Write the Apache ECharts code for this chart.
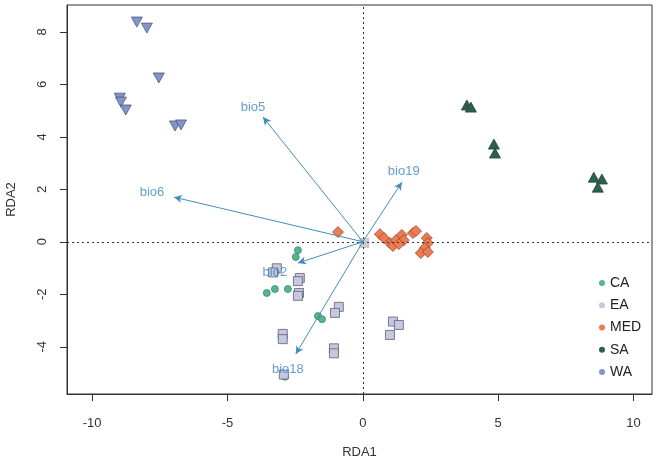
<!DOCTYPE html>
<html>
<head>
<meta charset="utf-8">
<script src="https://cdn.jsdelivr.net/npm/echarts@6/dist/echarts.min.js"></script>
<style>
html,body{margin:0;padding:0;background:#fff;}
#chart{width:661px;height:459px;}
</style>
</head>
<body>
<div id="chart"></div>
<script>
// ---- data (RDA1, RDA2) ----
const groups = ['CA', 'EA', 'MED', 'SA', 'WA'];
const caPoints = [[-2.40,-0.32],[-2.48,-0.58],[-3.55,-1.95],[-3.25,-1.80],[-2.77,-1.80],[-1.66,-2.83],[-1.51,-2.95],[-2.88,-5.14]];
const eaPoints = [[-3.18,-1.01],[-3.32,-1.17],[-2.33,-1.38],[-2.40,-1.50],[-2.36,-1.95],[-2.40,-2.06],[-0.89,-2.48],[-1.03,-2.71],[-2.96,-3.51],[-2.96,-3.71],[-1.07,-4.06],[-1.07,-4.25],[1.11,-3.04],[1.33,-3.17],[1.00,-3.55],[-2.92,-5.06]];
const medPoints = [[-0.92,0.37],[0.63,0.29],[0.78,0.14],[1.00,-0.05],[1.11,-0.16],[1.22,0.06],[1.44,0.26],[1.51,0.06],[1.33,-0.09],[1.85,0.33],[1.96,0.41],[2.36,0.14],[2.40,-0.05],[2.29,-0.24],[2.14,-0.43],[2.40,-0.39]];
const saPoints = [[3.84,5.21],[3.99,5.13],[4.84,3.72],[4.88,3.38],[8.53,2.46],[8.83,2.39],[8.68,2.08]];
const waPoints = [[-8.35,8.37],[-7.98,8.14],[-7.54,6.24],[-8.98,5.47],[-8.94,5.32],[-8.76,5.02],[-6.94,4.41],[-6.72,4.45]];
const centerPoints = [[0.05,-0.05]];
const bioNames = ['bio5', 'bio6', 'bio19', 'bio2', 'bio18'];
const bioArrows = [[-3.69,4.75],[-6.98,1.70],[1.44,2.27],[-2.40,-0.81],[-2.48,-4.28]];
const bioLabelPos = [[-4.06,5.13],[-7.79,1.89],[1.51,2.69],[-3.25,-1.16],[-2.77,-4.85]];
const xTicks = [-10, -5, 0, 5, 10];
const yTicks = [-4, -2, 0, 2, 4, 6, 8];
const xRange = [-10.93, 10.68];
const yRange = [-5.8, 9.02];

const fills = {CA:'#55b592', EA:'#c5c8df', MED:'#f07b50', SA:'#2e5e4c', WA:'#8494c8'};
const borders = {CA:'#3f8a6c', EA:'#5c5f74', MED:'#8e4a33', SA:'#24483b', WA:'#4c5679'};
const symbols = {CA:'circle', EA:'rect', MED:'diamond', SA:'triangle', WA:'path://M0,0 L10,0 L5,9 Z'};
const sizes = {CA:7, EA:[9,9], MED:[11,11], SA:[11,10], WA:[11,10]};
const pointData = {CA:caPoints, EA:eaPoints, MED:medPoints, SA:saPoints, WA:waPoints};

const chart = echarts.init(document.getElementById('chart'));
const axisTxt = {color:'#333', fontSize:13, fontFamily:'Liberation Sans, Arial, sans-serif'};

const series = groups.map(g => ({
  name: g, type: 'scatter', data: pointData[g], symbol: symbols[g], symbolSize: sizes[g],
  itemStyle: {color: fills[g], borderColor: borders[g], borderWidth: 0.8, opacity: 1},
  emphasis: {disabled: true}, z: 3
}));
series.unshift({
  name: 'center', type: 'scatter', data: centerPoints, symbol: 'rect', symbolSize: 10,
  itemStyle: {color: '#bdbdbd'}, z: 2,
  markLine: {silent: true, symbol: 'none', label: {show: false},
    lineStyle: {type: [2, 3], color: '#333', width: 1},
    data: [{xAxis: 0}, {yAxis: 0}]}
});
series.push({
  name: 'arrows', type: 'scatter', data: [], z: 5,
  markLine: {silent: true, symbol: ['none', 'arrow'], symbolSize: [6, 8], label: {show: false},
    lineStyle: {type: 'solid', color: '#438cbc', width: 1},
    data: bioArrows.map(a => [{coord: [0, 0]}, {coord: a}])}
});
series.push({
  name: 'biolabels', type: 'scatter', symbolSize: 1, z: 6,
  itemStyle: {color: 'rgba(0,0,0,0)'},
  data: bioLabelPos.map((p, i) => [p[0], p[1], bioNames[i]]),
  label: {show: true, position: 'inside', formatter: p => p.data[2], color: '#3d84c4', fontSize: 13,
    fontFamily: 'Liberation Sans, Arial, sans-serif'}
});
// outward tick marks: thin strip grids just outside the plot box share the axis ranges
series.push({
  name: 'xticks', type: 'scatter', data: [], xAxisIndex: 1, yAxisIndex: 1, silent: true,
  markLine: {silent: true, symbol: 'none', label: {show: false}, animation: false,
    lineStyle: {type: 'solid', color: '#333', width: 1},
    data: xTicks.map(v => ({xAxis: v}))}
});
series.push({
  name: 'yticks', type: 'scatter', data: [], xAxisIndex: 2, yAxisIndex: 2, silent: true,
  markLine: {silent: true, symbol: 'none', label: {show: false}, animation: false,
    lineStyle: {type: 'solid', color: '#333', width: 1},
    data: yTicks.map(v => ({yAxis: v}))}
});

const hiddenAxis = (gi, range) => ({
  type: 'value', gridIndex: gi, min: range[0], max: range[1], show: false,
  axisLine: {show: false, onZero: false}, axisTick: {show: false}, axisLabel: {show: false}, splitLine: {show: false}
});

chart.setOption({
  animation: false,
  grid: [
    {left: 67, right: 9, top: 5, bottom: 65, containLabel: false, outerBoundsMode: 'none',
      show: true, borderColor: '#333', borderWidth: 1, backgroundColor: 'transparent'},
    {left: 67, right: 9, top: 394, height: 7, containLabel: false, outerBoundsMode: 'none', show: false},
    {left: 60, width: 7, top: 5, bottom: 65, containLabel: false, outerBoundsMode: 'none', show: false}
  ],
  legend: {
    data: groups.map(g => ({name: g, icon: 'circle', itemStyle: {color: fills[g], borderWidth: 0}})),
    orient: 'vertical', left: 599, top: 275, padding: 0, itemWidth: 6, itemHeight: 6, itemGap: 6.25, itemTextGap: 11,
    textStyle: {color: '#222', fontSize: 14, lineHeight: 16, fontFamily: 'Liberation Sans, Arial, sans-serif'},
    selectedMode: false
  },
  xAxis: [{
    type: 'value', gridIndex: 0, position: 'bottom', min: xRange[0], max: xRange[1], name: 'RDA1', nameLocation: 'middle', nameGap: 52,
    nameTextStyle: axisTxt,
    axisLine: {show: true, onZero: false, lineStyle: {color: '#333', width: 1}}, splitLine: {show: false},
    axisTick: {show: false},
    axisLabel: Object.assign({customValues: xTicks, margin: 23}, axisTxt)
  }, hiddenAxis(1, xRange), hiddenAxis(2, [0, 1])],
  yAxis: [{
    type: 'value', gridIndex: 0, position: 'left', min: yRange[0], max: yRange[1], name: 'RDA2', nameLocation: 'middle', nameGap: 49,
    nameTextStyle: axisTxt,
    axisLine: {show: true, onZero: false, lineStyle: {color: '#333', width: 1}}, splitLine: {show: false},
    axisTick: {show: false},
    axisLabel: Object.assign({customValues: yTicks, margin: 18, rotate: 90}, axisTxt)
  }, hiddenAxis(1, [0, 1]), hiddenAxis(2, yRange)],
  series: series
});
</script>
</body>
</html>
